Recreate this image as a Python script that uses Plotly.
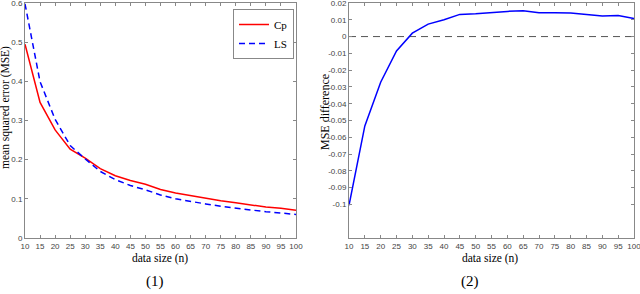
import plotly.graph_objects as go

n = [10, 15, 20, 25, 30, 35, 40, 45, 50, 55, 60, 65, 70, 75, 80, 85, 90, 95, 100]
cp = [0.495, 0.346, 0.276, 0.227, 0.204, 0.177, 0.159, 0.147, 0.137, 0.124, 0.115, 0.108, 0.101, 0.095, 0.090, 0.084, 0.079, 0.076, 0.071]
ls = [0.598, 0.399, 0.303, 0.236, 0.202, 0.170, 0.149, 0.134, 0.123, 0.110, 0.100, 0.093, 0.087, 0.081, 0.076, 0.071, 0.067, 0.064, 0.060]
diff = [-0.1005, -0.0532, -0.0272, -0.0086, 0.0020, 0.0074, 0.0100, 0.0132, 0.0136, 0.0144, 0.0150, 0.0154, 0.0142, 0.0142, 0.0140, 0.0132, 0.0122, 0.0126, 0.0108]

xticks = list(range(10, 101, 5))
ly_ticks = [0, 0.1, 0.2, 0.3, 0.4, 0.5, 0.6]
ly_text = ["0", "0.1", "0.2", "0.3", "0.4", "0.5", "0.6"]
ry_ticks = [-0.1, -0.09, -0.08, -0.07, -0.06, -0.05, -0.04, -0.03, -0.02, -0.01, 0, 0.01, 0.02]
ry_text = ["-0.1", "-0.09", "-0.08", "-0.07", "-0.06", "-0.05", "-0.04", "-0.03", "-0.02", "-0.01", "0", "0.01", "0.02"]

W, H = 640, 294
fig = go.Figure()
fig.add_trace(go.Scatter(x=n, y=cp, mode="lines", name="Cp", line=dict(color="#ff0000", width=1.5), xaxis="x", yaxis="y"))
fig.add_trace(go.Scatter(x=n, y=ls, mode="lines", name="LS", line=dict(color="#0000ff", width=1.5, dash="6px,4px"), xaxis="x", yaxis="y"))
fig.add_trace(go.Scatter(x=[10, 100], y=[0, 0], mode="lines", showlegend=False, line=dict(color="#555555", width=1, dash="7px,5px"), xaxis="x2", yaxis="y2"))
fig.add_trace(go.Scatter(x=n, y=diff, mode="lines", showlegend=False, line=dict(color="#0000ff", width=1.5), xaxis="x2", yaxis="y2"))

ytop = 1 - 3 / H
ybot = 1 - 238 / H
tickfont = dict(family="Liberation Sans", size=8, color="#444444")
common = dict(showline=True, linecolor="#888888", linewidth=1, mirror="ticks", ticks="inside",
              ticklen=3, tickcolor="#888888", showgrid=False, zeroline=False, tickfont=tickfont,
              automargin=False, ticklabeloverflow="allow")

serif = "Liberation Serif"
fig.update_layout(
    width=W, height=H, margin=dict(l=0, r=0, t=0, b=0, autoexpand=False),
    paper_bgcolor="white", plot_bgcolor="white",
    xaxis=dict(domain=[25 / W, 296 / W], range=[10, 100], tickvals=xticks, anchor="y", **common),
    yaxis=dict(domain=[ybot, ytop], range=[0, 0.6], tickvals=ly_ticks, ticktext=ly_text, anchor="x", **common),
    xaxis2=dict(domain=[349 / W, 634 / W], range=[10, 100], tickvals=xticks, anchor="y2", **common),
    yaxis2=dict(domain=[ybot, ytop], range=[-0.12, 0.02], tickvals=ry_ticks, ticktext=ry_text, anchor="x2", **common),
    legend=dict(x=294 / W, y=1 - 9 / H, xanchor="right", yanchor="top", bgcolor="white",
                bordercolor="#888888", borderwidth=1, font=dict(family=serif, size=11, color="black"),
                tracegroupgap=0, itemwidth=30),
    showlegend=True,
)

ann = [
    dict(text="data size (n)", x=160 / W, y=1 - 258 / H, size=11.5),
    dict(text="data size (n)", x=490 / W, y=1 - 258 / H, size=11.5),
    dict(text="(1)", x=155 / W, y=1 - 281 / H, size=15),
    dict(text="(2)", x=470 / W, y=1 - 281 / H, size=15),
]
for a in ann:
    fig.add_annotation(text=a["text"], x=a["x"], y=a["y"], xref="paper", yref="paper", showarrow=False,
                       xanchor="center", yanchor="middle", font=dict(family=serif, size=a["size"], color="black"))
fig.add_annotation(text="mean squared error (MSE)", x=6 / W, y=1 - 108 / H, xref="paper", yref="paper",
                   showarrow=False, textangle=-90, xanchor="center", yanchor="middle",
                   font=dict(family=serif, size=11.5, color="black"))
fig.add_annotation(text="MSE difference", x=325 / W, y=1 - 112 / H, xref="paper", yref="paper",
                   showarrow=False, textangle=-90, xanchor="center", yanchor="middle",
                   font=dict(family=serif, size=12, color="black"))

fig.write_html("out.html", config={"displayModeBar": False},
               post_script="document.body.style.margin='0';document.body.style.overflow='hidden';")
